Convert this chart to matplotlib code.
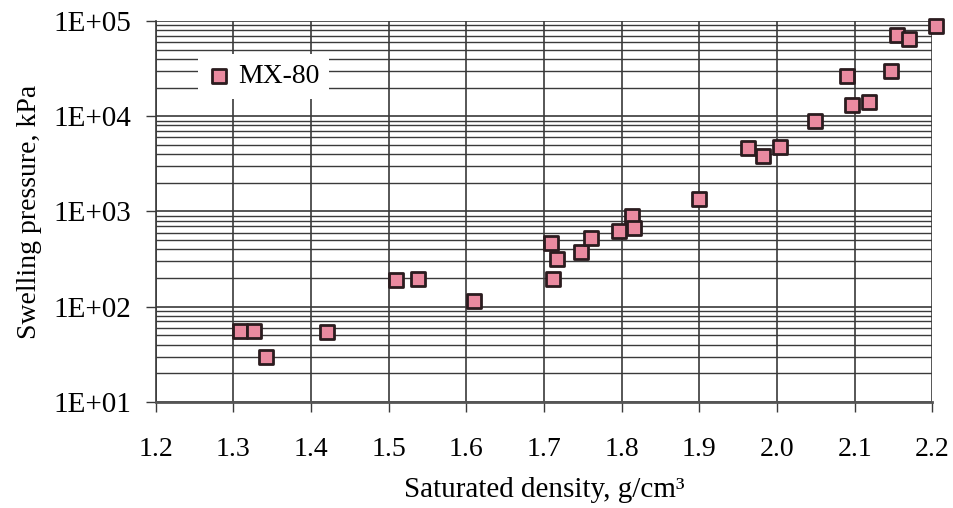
import matplotlib
matplotlib.use("Agg")
import matplotlib.pyplot as plt
from matplotlib.ticker import LogLocator, NullFormatter

plt.rcParams['font.family'] = ['Liberation Serif', 'DejaVu Serif']

# Saturated density (g/cm3) and swelling pressure (kPa) for MX-80 bentonite
density = [1.309, 1.326, 1.342, 1.420, 1.510, 1.538, 1.610, 1.709, 1.717,
           1.711, 1.747, 1.760, 1.797, 1.813, 1.816, 1.899, 1.963, 1.982,
           2.004, 2.049, 2.090, 2.097, 2.118, 2.147, 2.154, 2.170, 2.205]
pressure = [56, 55, 29.4, 54, 191, 196, 116, 464, 315,
            196, 373, 524, 620, 897, 676, 1343, 4680, 3830,
            4720, 8850, 26500, 13100, 14100, 29600, 71300, 64700, 88700]

x_ticks = [1.2, 1.3, 1.4, 1.5, 1.6, 1.7, 1.8, 1.9, 2.0, 2.1, 2.2]
x_tick_labels = ['1.2', '1.3', '1.4', '1.5', '1.6', '1.7', '1.8', '1.9', '2.0', '2.1', '2.2']
y_ticks = [1e1, 1e2, 1e3, 1e4, 1e5]
y_tick_labels = ['1E+01', '1E+02', '1E+03', '1E+04', '1E+05']

grid_color = '#3a3a3a'
fs = 20

fig = plt.figure(figsize=(9.54, 5.08), dpi=100)
ax = fig.add_axes([0.1632, 0.2087, 0.8141, 0.7500])

ax.set_yscale('log')
ax.set_xlim(1.2, 2.2)
ax.set_ylim(1e1, 1e5)

ax.scatter(density, pressure, marker='s', s=88, facecolor='#ea8aa0',
           edgecolor='#2b1c1f', linewidths=2.0, zorder=5, clip_on=False,
           label='MX-80')

ax.set_xticks(x_ticks)
ax.set_xticklabels(x_tick_labels)
ax.set_yticks(y_ticks)
ax.set_yticklabels(y_tick_labels)
ax.yaxis.set_minor_locator(LogLocator(base=10, subs=range(2, 10)))
ax.yaxis.set_minor_formatter(NullFormatter())

ax.grid(True, which='major', axis='both', color=grid_color, linewidth=1.2)
ax.grid(True, which='minor', axis='y', color=grid_color, linewidth=1.0)
ax.set_axisbelow(True)

for side in ['top', 'right']:
    ax.spines[side].set_visible(False)
ax.spines['left'].set_color(grid_color)
ax.spines['left'].set_linewidth(1.2)
ax.spines['bottom'].set_color('#555555')
ax.spines['bottom'].set_linewidth(2.0)

ax.tick_params(axis='x', which='major', direction='out', length=7.5, width=1.0,
               color=grid_color, labelsize=fs, pad=17.5)
ax.tick_params(axis='y', which='major', direction='out', length=7.5, width=1.0,
               color=grid_color, labelsize=21, pad=10)
ax.tick_params(axis='y', which='minor', length=0)

ax.set_xlabel('Saturated density, g/cm³', fontsize=21, labelpad=11)
ax.set_ylabel('Swelling pressure, kPa', fontsize=fs, labelpad=8)

leg = ax.legend(loc='upper left', bbox_to_anchor=(0.0545, 0.913), fontsize=fs,
                frameon=True, framealpha=1.0, edgecolor='none', fancybox=False,
                handlelength=0.8, handletextpad=0.3, borderpad=0.35,
                borderaxespad=0.0, markerscale=1.0, scatterpoints=1)
leg.get_frame().set_facecolor('white')

fig.savefig('out.png', dpi=100, facecolor='white')
